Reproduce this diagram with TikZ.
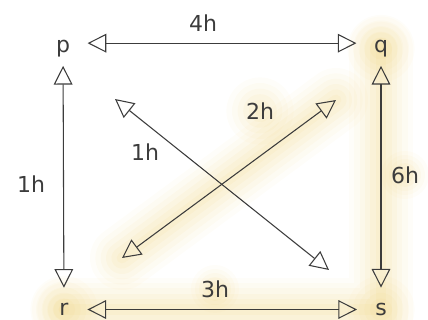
\documentclass[tikz,border=0pt]{standalone}
\usepackage{fontspec}
\setmainfont{DejaVu Sans}
\usetikzlibrary{arrows.meta}
\definecolor{edgegray}{RGB}{60,60,60}
\definecolor{glowyellow}{RGB}{236,204,105}
\pgfdeclarelayer{halo}
\pgfsetlayers{halo,main}

\begin{document}
\begin{tikzpicture}[x=0.75pt,y=-0.75pt,
    every node/.style={font=\fontsize{16.5}{20}\selectfont,text=edgegray,inner sep=0pt},
    link/.style={draw=edgegray,line width=0.8pt,
      {Triangle[open,length=14pt,width=14pt]}-{Triangle[open,length=14pt,width=14pt]}},
    glow/.style={glowyellow,line cap=round}]
  \useasboundingbox (0,0) rectangle (428,320);
  % corners
  \node (p) at (63,48.5) {p};
  \node (q) at (381,48.5) {q};
  \node (r) at (64,309.5) {r};
  \node (s) at (381,309.5) {s};
  % weights
  \node (wpq) at (203,23) {4h};
  \node (wpr) at (31,184) {1h};
  \node (wqs) at (405,175) {6h};
  \node (wrs) at (215,289) {3h};
  \node (wrq) at (260,111) {2h};
  \node (wps) at (145,152) {1h};
  % the diagonals end short of the corners
  \coordinate (ps1) at (115,99);
  \coordinate (ps2) at (329,270);
  \coordinate (rq1) at (122,258);
  \coordinate (rq2) at (336,100);

  \draw[link,shorten <=13pt,shorten >=13pt] ([yshift=4pt]p.east) -- ([yshift=4pt]q.west);
  \draw[link,shorten <=6.5pt,shorten >=11.5pt] (p) -- (r);
  \draw[link,shorten <=6.5pt,shorten >=11.5pt] (q) -- (s);
  \draw[link,shorten <=14pt,shorten >=13.5pt] (r) -- (s);
  \draw[link] (ps1) -- (ps2);
  \draw[link] (rq1) -- (rq2);

  % highlighted path
  \begin{pgfonlayer}{halo}
    \foreach \w/\o in {48/0.04,40/0.05,32/0.06,24/0.07,16/0.08,8/0.08}{
      \draw[glow,line width=\w pt,opacity=\o] (rq1) -- (rq2);
      \draw[glow,line width=\w pt,opacity=\o] (q.center) -- (s.center) -- (r.center);
      \fill[glow,opacity=\o] (q) circle[radius=0.7*\w];
      \fill[glow,opacity=\o] (r) circle[radius=0.7*\w];
      \fill[glow,opacity=\o] (s) circle[radius=0.7*\w];
      \fill[glow,opacity=\o] (wrq) circle[radius=0.7*\w];
      \fill[glow,opacity=\o] (wqs) circle[radius=0.5*\w];
      \fill[glow,opacity=\o] (wrs) circle[radius=0.5*\w];
    }
  \end{pgfonlayer}
\end{tikzpicture}
\end{document}
